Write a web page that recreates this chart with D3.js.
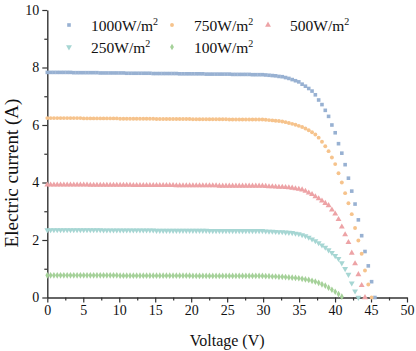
<!DOCTYPE html>
<html>
<head>
<meta charset="utf-8">
<script src="https://cdn.jsdelivr.net/npm/d3@7"></script>
<style>
    html, body { margin: 0; padding: 0; background: #ffffff; }
    svg text { font-family: "Liberation Serif", "Times New Roman", serif; }
</style>
</head>
<body>
<div id="canvas"></div>
<script>
"use strict";

/* ---------------- DATA ---------------- */

let seriesNames = ["1000W/m", "750W/m", "500W/m", "250W/m", "100W/m"];

let voltage = [
    0, 0.46, 0.92, 1.38, 1.84, 2.3, 2.76, 3.22, 3.68, 4.14,
    4.6, 5.06, 5.52, 5.98, 6.44, 6.9, 7.36, 7.82, 8.28, 8.74,
    9.2, 9.66, 10.12, 10.58, 11.04, 11.5, 11.96, 12.42, 12.88, 13.34,
    13.8, 14.26, 14.72, 15.18, 15.64, 16.1, 16.56, 17.02, 17.48, 17.94,
    18.4, 18.86, 19.32, 19.78, 20.24, 20.7, 21.16, 21.62, 22.08, 22.54,
    23.0, 23.46, 23.92, 24.38, 24.84, 25.3, 25.76, 26.22, 26.68, 27.14,
    27.6, 28.06, 28.52, 28.98, 29.44, 29.9, 30.36, 30.82, 31.28, 31.74,
    32.2, 32.66, 33.12, 33.58, 34.04, 34.5, 34.96, 35.42, 35.88, 36.34,
    36.8, 37.26, 37.72, 38.18, 38.64, 39.1, 39.56, 40.02, 40.48, 40.94,
    41.4, 41.86, 42.32, 42.78, 43.24, 43.7, 44.16, 44.62, 45.08, 45.54
];

let current1000 = [
    7.83, 7.83, 7.83, 7.83, 7.83, 7.83, 7.83, 7.83, 7.82, 7.82,
    7.82, 7.82, 7.82, 7.82, 7.82, 7.82, 7.81, 7.81, 7.81, 7.81,
    7.81, 7.81, 7.81, 7.81, 7.80, 7.80, 7.80, 7.80, 7.80, 7.80,
    7.80, 7.80, 7.79, 7.79, 7.79, 7.79, 7.79, 7.79, 7.79, 7.79,
    7.78, 7.78, 7.78, 7.78, 7.78, 7.78, 7.78, 7.78, 7.77, 7.77,
    7.77, 7.77, 7.77, 7.77, 7.77, 7.77, 7.76, 7.76, 7.76, 7.76,
    7.76, 7.76, 7.75, 7.75, 7.75, 7.75, 7.74, 7.73, 7.72, 7.71,
    7.69, 7.68, 7.65, 7.62, 7.58, 7.54, 7.50, 7.42, 7.35, 7.27,
    7.18, 7.05, 6.87, 6.71, 6.51, 6.30, 6.00, 5.73, 5.35, 5.02,
    4.62, 4.15, 3.70, 3.25, 2.70, 2.15, 1.60, 1.10, 0.55, 0
];

let current750 = [
    6.24, 6.24, 6.24, 6.24, 6.24, 6.24, 6.24, 6.24, 6.24, 6.24,
    6.24, 6.23, 6.23, 6.23, 6.23, 6.23, 6.23, 6.23, 6.23, 6.23,
    6.23, 6.23, 6.22, 6.22, 6.22, 6.22, 6.22, 6.22, 6.22, 6.22,
    6.22, 6.22, 6.22, 6.21, 6.21, 6.21, 6.21, 6.21, 6.21, 6.21,
    6.21, 6.21, 6.21, 6.21, 6.20, 6.20, 6.20, 6.20, 6.20, 6.20,
    6.20, 6.20, 6.20, 6.20, 6.20, 6.19, 6.19, 6.19, 6.19, 6.19,
    6.19, 6.19, 6.19, 6.19, 6.19, 6.19, 6.18, 6.17, 6.16, 6.15,
    6.14, 6.12, 6.10, 6.07, 6.04, 6.01, 5.97, 5.93, 5.88, 5.82,
    5.75, 5.67, 5.56, 5.42, 5.26, 5.09, 4.87, 4.64, 4.32, 4.00,
    3.63, 3.28, 2.90, 2.42, 1.98, 1.52, 0.94, 0.45, 0
];

let current500 = [
    3.92, 3.92, 3.92, 3.92, 3.92, 3.92, 3.92, 3.92, 3.92, 3.92,
    3.92, 3.92, 3.92, 3.91, 3.91, 3.91, 3.91, 3.91, 3.91, 3.91,
    3.91, 3.91, 3.91, 3.91, 3.91, 3.91, 3.90, 3.90, 3.90, 3.90,
    3.90, 3.90, 3.90, 3.90, 3.90, 3.90, 3.90, 3.90, 3.90, 3.89,
    3.89, 3.89, 3.89, 3.89, 3.89, 3.89, 3.89, 3.89, 3.89, 3.89,
    3.89, 3.89, 3.88, 3.88, 3.88, 3.88, 3.88, 3.88, 3.88, 3.88,
    3.88, 3.88, 3.88, 3.88, 3.88, 3.88, 3.87, 3.86, 3.86, 3.85,
    3.84, 3.84, 3.83, 3.82, 3.81, 3.79, 3.77, 3.75, 3.70, 3.64,
    3.59, 3.51, 3.44, 3.36, 3.28, 3.20, 3.05, 2.91, 2.72, 2.46,
    2.19, 1.92, 1.55, 1.18, 0.80, 0.42, 0
];

let current250 = [
    2.35, 2.35, 2.35, 2.35, 2.35, 2.35, 2.35, 2.35, 2.35, 2.35,
    2.35, 2.35, 2.35, 2.35, 2.35, 2.35, 2.35, 2.34, 2.34, 2.34,
    2.34, 2.34, 2.34, 2.34, 2.34, 2.34, 2.34, 2.34, 2.34, 2.34,
    2.34, 2.34, 2.34, 2.33, 2.33, 2.33, 2.33, 2.33, 2.33, 2.33,
    2.33, 2.33, 2.33, 2.33, 2.33, 2.33, 2.33, 2.33, 2.33, 2.32,
    2.32, 2.32, 2.32, 2.32, 2.32, 2.32, 2.32, 2.32, 2.32, 2.32,
    2.32, 2.32, 2.32, 2.32, 2.32, 2.32, 2.31, 2.30, 2.30, 2.29,
    2.28, 2.28, 2.27, 2.26, 2.25, 2.23, 2.21, 2.18, 2.14, 2.09,
    2.03, 1.97, 1.90, 1.82, 1.74, 1.65, 1.56, 1.45, 1.35, 1.20,
    1.00, 0.80, 0.50, 0.22, 0
];

let current100 = [
    0.77, 0.77, 0.77, 0.77, 0.77, 0.77, 0.77, 0.77, 0.77, 0.77,
    0.77, 0.77, 0.77, 0.77, 0.77, 0.77, 0.77, 0.77, 0.77, 0.77,
    0.77, 0.77, 0.76, 0.76, 0.76, 0.76, 0.76, 0.76, 0.76, 0.76,
    0.76, 0.76, 0.76, 0.76, 0.76, 0.76, 0.76, 0.76, 0.76, 0.76,
    0.76, 0.76, 0.76, 0.76, 0.75, 0.75, 0.75, 0.75, 0.75, 0.75,
    0.75, 0.75, 0.75, 0.75, 0.75, 0.75, 0.75, 0.75, 0.75, 0.75,
    0.75, 0.75, 0.75, 0.75, 0.75, 0.75, 0.74, 0.74, 0.73, 0.73,
    0.72, 0.72, 0.71, 0.70, 0.69, 0.68, 0.67, 0.65, 0.63, 0.61,
    0.58, 0.55, 0.51, 0.46, 0.41, 0.34, 0.27, 0.20, 0.12, 0.03
];

let xTicks = [0, 5, 10, 15, 20, 25, 30, 35, 40, 45, 50];
let yTicks = [0, 2, 4, 6, 8, 10];

/* ---------------- SETUP ---------------- */

let svgWidth = 416;
let svgHeight = 351;

let margin = {
    top: 10,
    right: 9,
    bottom: 53.5,
    left: 47.3
};

let serif = "'Liberation Serif', 'Times New Roman', serif";

let svg = d3.select("#canvas")
    .append("svg")
    .attr("width", svgWidth)
    .attr("height", svgHeight)
    .attr("font-family", serif);

let xScale = d3.scaleLinear()
    .domain([0, 50])
    .range([margin.left, svgWidth - margin.right]);

let yScale = d3.scaleLinear()
    .domain([0, 10])
    .range([svgHeight - margin.bottom, margin.top]);

let colors = ["#98b1d2", "#f6c38c", "#eda3a6", "#a6d6d3", "#a5d199"];

let shapes = [
    { type: d3.symbolSquare, size: 13, rotate: 0 },
    { type: d3.symbolCircle, size: 12, rotate: 0 },
    { type: d3.symbolTriangle, size: 15, rotate: 0 },
    { type: d3.symbolTriangle, size: 15, rotate: 180 },
    { type: d3.symbolDiamond, size: 13, rotate: 0 }
];

let allCurrents = [current1000, current750, current500, current250, current100];

/* ---------------- AXES ---------------- */

let xAxisY = yScale(0);
let yAxisX = xScale(0);

// minor ticks
svg.append("g")
    .attr("transform", "translate(0," + xAxisY + ")")
    .call(d3.axisBottom(xScale)
        .tickValues(d3.range(2.5, 50, 5))
        .tickSize(3)
        .tickFormat(""))
    .call(function (g) { g.select(".domain").remove(); })
    .selectAll("line").attr("stroke", "#333").attr("stroke-width", 1.2);

svg.append("g")
    .attr("transform", "translate(" + yAxisX + ",0)")
    .call(d3.axisLeft(yScale)
        .tickValues(d3.range(1, 10, 2))
        .tickSize(3)
        .tickFormat(""))
    .call(function (g) { g.select(".domain").remove(); })
    .selectAll("line").attr("stroke", "#333").attr("stroke-width", 1.2);

let xAxisG = svg.append("g")
    .attr("transform", "translate(0," + xAxisY + ")")
    .call(d3.axisBottom(xScale)
        .tickValues(xTicks)
        .tickSize(5)
        .tickSizeOuter(0)
        .tickPadding(3));

let yAxisG = svg.append("g")
    .attr("transform", "translate(" + yAxisX + ",0)")
    .call(d3.axisLeft(yScale)
        .tickValues(yTicks)
        .tickSize(5)
        .tickSizeOuter(0)
        .tickPadding(3));

[xAxisG, yAxisG].forEach(function (g) {
    g.attr("font-family", serif).attr("font-size", 14);
    g.select(".domain").attr("stroke", "#333").attr("stroke-width", 1.4);
    g.selectAll(".tick line").attr("stroke", "#333").attr("stroke-width", 1.2);
    g.selectAll(".tick text")
        .attr("fill", "#111")
        .attr("font-family", serif)
        .attr("font-size", 14);
});

/* ---------------- POINTS ---------------- */

let pointsLayer = svg.append("g");

allCurrents.forEach(function (currents, s) {
    let shape = shapes[s];
    let symbol = d3.symbol().type(shape.type).size(shape.size);

    pointsLayer.append("g")
        .selectAll("path")
        .data(currents)
        .enter()
        .append("path")
        .attr("d", symbol)
        .attr("transform", function (d, i) {
            return "translate(" + xScale(voltage[i]) + "," + yScale(d) + ") rotate(" + shape.rotate + ")";
        })
        .attr("fill", colors[s]);
});

/* ---------------- LEGEND ---------------- */

let legendPos = [
    { x: 69, y: 25 },
    { x: 172, y: 25 },
    { x: 268, y: 25 },
    { x: 69, y: 47 },
    { x: 172, y: 47 }
];

seriesNames.forEach(function (name, s) {
    let pos = legendPos[s];
    let shape = shapes[s];

    svg.append("path")
        .attr("d", d3.symbol().type(shape.type).size(shape.size)())
        .attr("transform", "translate(" + pos.x + "," + pos.y + ") rotate(" + shape.rotate + ")")
        .attr("fill", colors[s]);

    let label = svg.append("text")
        .attr("x", pos.x + 22)
        .attr("y", pos.y + 5.5)
        .attr("fill", "#111")
        .attr("font-family", serif)
        .attr("font-size", 15.5)
        .text(name);

    label.append("tspan")
        .attr("dy", -6)
        .attr("font-size", 10)
        .text("2");
});

/* ---------------- AXIS TITLES ---------------- */

svg.append("text")
    .attr("x", (xScale(0) + xScale(50)) / 2)
    .attr("y", 346)
    .attr("text-anchor", "middle")
    .attr("fill", "#111")
    .attr("font-family", serif)
    .attr("font-size", 16)
    .text("Voltage (V)");

svg.append("text")
    .attr("transform", "translate(18," + 173 + ") rotate(-90)")
    .attr("text-anchor", "middle")
    .attr("fill", "#111")
    .attr("font-family", serif)
    .attr("font-size", 19)
    .text("Electric current (A)");
</script>
</body>
</html>
